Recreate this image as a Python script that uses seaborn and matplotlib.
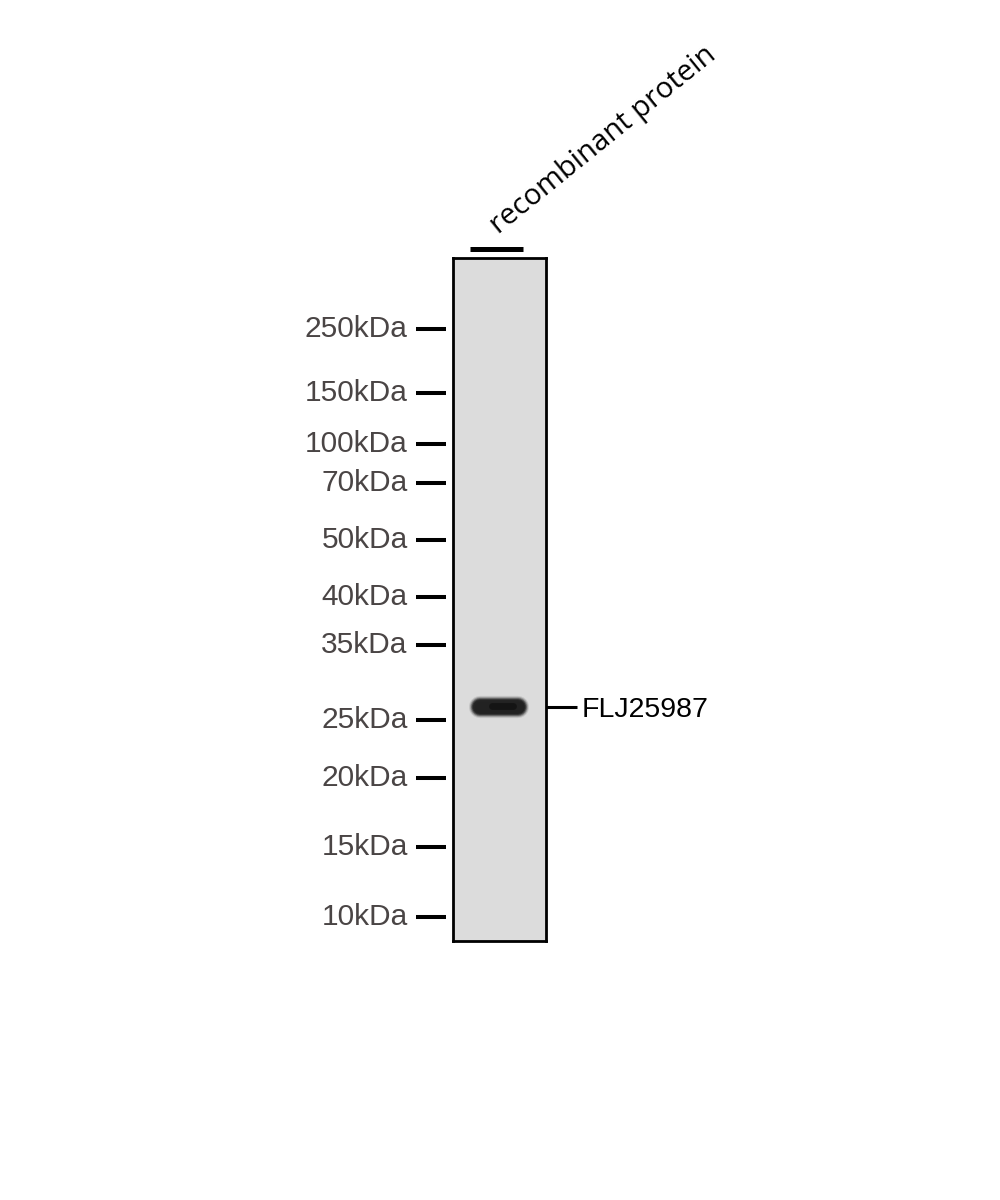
import numpy as np
import pandas as pd
import matplotlib.pyplot as plt
import matplotlib.transforms as mtransforms
import seaborn as sns

# marker ladder: label and migration distance (px from top of lane)
marker_labels = ["250kDa", "150kDa", "100kDa", "70kDa", "50kDa", "40kDa",
                 "35kDa", "25kDa", "20kDa", "15kDa", "10kDa"]
marker_pos = [71, 135, 186, 225, 282, 339, 387, 462, 520, 589, 659]

lane_names = ["recombinant protein"]
band_names = ["FLJ25987"]
band_pos = [449]
band_span = [0.29, 0.70]
lane_length = 683

sns.set_theme(style="white")
plt.rcParams['font.family'] = ['Liberation Sans', 'DejaVu Sans']

fig = plt.figure(figsize=(10, 12), dpi=100)
W, H = 1000, 1200
lane_box = [453 / W, 1 - 941 / H, 93 / W, lane_length / H]
ax = fig.add_axes(lane_box)
ax.set_facecolor("#dcdcdc")
ax.set_xlim(0, 1)
ax.set_ylim(lane_length, 0)
for s in ax.spines.values():
    s.set_visible(True)
    s.set_color("black")
    s.set_linewidth(2)

# band with soft edges
for lw, a in [(16, 0.12), (14.5, 0.25), (13, 0.45), (11.5, 0.7), (10, 0.9), (8, 1.0)]:
    ax.plot(band_span, [band_pos[0], band_pos[0]], color="#222222", lw=lw,
            alpha=a, solid_capstyle="round")
ax.plot([0.42, 0.64], [band_pos[0] - 1, band_pos[0] - 1], color="#080808",
        lw=5, alpha=0.5, solid_capstyle="round")

# band label on the right
ax.set_xticks([])
ax.yaxis.tick_right()
ax.set_yticks(band_pos, band_names)
ax.tick_params(axis="y", right=True, left=False, direction="out",
               length=22, width=2.2, color="black", pad=4,
               labelsize=20.5, labelcolor="black")

# marker ticks on a separate thin axis left of the lane
mk = fig.add_axes([446 / W, lane_box[1], 0.0005, lane_box[3]])
mk.set_ylim(lane_length, 0)
mk.set_facecolor("none")
for s in mk.spines.values():
    s.set_visible(False)
mk.set_xticks([])
mk.yaxis.tick_left()
mk.set_yticks(marker_pos, marker_labels)
mk.tick_params(axis="y", left=True, right=False, direction="out",
               length=21.6, width=2.9, color="black", pad=6,
               labelsize=21.5, labelcolor="#4a4545")
shift = mtransforms.ScaledTranslation(0, 3 / 100, fig.dpi_scale_trans)
for t in mk.get_yticklabels():
    t.set_transform(t.get_transform() + shift)

# lane header
ax.plot([0.183, 0.753], [-9.5, -9.5], color="black", lw=3.6, clip_on=False,
        solid_capstyle="butt")
ax.text(0.49, -23, lane_names[0], rotation=39, rotation_mode="anchor",
        ha="left", va="baseline", fontsize=21, color="black",
        family=["Open Sans", "DejaVu Sans"])

fig.savefig("out.png", dpi=100, facecolor="white")
